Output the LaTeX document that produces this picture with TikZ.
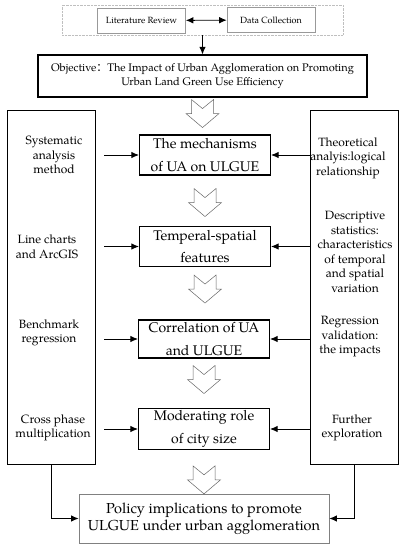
\documentclass[tikz,border=0pt]{standalone}
\usepackage{fontspec}
\setmainfont{TeX Gyre Pagella}
\newfontfamily\cjk{Noto Sans CJK SC}
\usetikzlibrary{positioning, arrows.meta, calc}

\tikzset{
  stage/.style={draw, line width=1.1pt, align=center, minimum width=131pt, minimum height=40pt, inner sep=2pt, font=\fontsize{14}{22.5}\selectfont},
  side/.style={align=center, font=\fontsize{12}{14.5}\selectfont, inner sep=0pt},
  frame/.style={draw, line width=0.9pt, minimum width=88pt, minimum height=354pt},
  source/.style={draw=gray!80, line width=0.6pt, minimum width=88pt, minimum height=25pt, font=\fontsize{9}{11}\selectfont},
  link/.style={-{Latex[length=7.5pt,width=6.5pt]}, line width=0.9pt},
  hollow/.pic={\draw[gray!80!black, line width=0.5pt, fill=white] (-11,0) -- (0,9) -- (11,0) -- (11,14) -- (16.5,14) -- (0,28) -- (-16.5,14) -- (-11,14) -- cycle;}
}

\begin{document}
\begin{tikzpicture}[x=1pt, y=-1pt]
\useasboundingbox (0,0) rectangle (407,550);
% sources
\node[draw=gray!50, densely dotted, minimum width=281pt, minimum height=30pt] (review) at (202.5,20) {};
\node[source] (lit) at (141.5,20.5) {Literature Review};
\node[source] (data) at (271,20) {Data Collection};
\draw[{Latex[length=7.5pt,width=6.5pt]}-{Latex[length=7.5pt,width=6.5pt]}, line width=0.9pt] (lit) -- (data);
% objective
\node[draw, line width=1.1pt, align=center, minimum width=329pt, minimum height=42pt, font=\fontsize{11}{13.3}\selectfont] (obj) at (202.5,76) {Objective{\cjk ：}The Impact of Urban Agglomeration on Promoting\\ Urban Land Green Use Efficiency};
\draw[link] (review.south) -- (obj.north);

% frames
\node[frame] (lframe) at (51,287) {};
\node[frame] (rframe) at (354.5,287) {};

% stages
\node[stage] (mech) at (205,155) {The mechanisms\\ of UA on ULGUE};
\node[stage] (temp) at (205,246.5) {Temperal-spatial\\ features};
\node[stage, minimum height=38pt] (corr) at (204,339) {Correlation of UA\\ and ULGUE};
\node[stage] (mod) at (204,429) {Moderating role\\ of city size};
\node[draw=gray, line width=0.7pt, minimum width=250pt, minimum height=49pt, align=center, font=\fontsize{14.5}{16.7}\selectfont] (policy) at (204,518.5) {Policy implications to promote\\ ULGUE under urban agglomeration};

% methods
\node[side] (sys) at (54,155) {Systematic\\ analysis\\ method};
\node[side] (chart) at (47,247) {Line charts\\ and ArcGIS};
\node[side] (bench) at (49,333) {Benchmark\\ regression};
\node[side] (cross) at (53,428) {Cross phase\\ multiplication};

% analyses
\node[side] (theo) at (348,158) {Theoretical\\ analyis:logical\\ relationship};
\node[side] (desc) at (355,252) {Descriptive\\ statistics:\\ characteristics\\ of temporal\\ and spatial\\ variation};
\node[side] (regr) at (350,337) {Regression\\ validation:\\ the impacts};
\node[side] (further) at (352,428) {Further\\ exploration};

% arrows into stages
\foreach \s in {mech, temp, corr, mod} {
  \draw[link] ($(lframe.east |- \s.west)+(9,0)$) -- (\s.west);
  \draw[link] (rframe.west |- \s.east) -- (\s.east);
}
\draw[link] (lframe.south) |- (policy.west);
\draw[link] (rframe.south) |- (policy.east);

% hollow arrows
\pic at ([yshift=-2pt]obj.south) {hollow};
\pic at ([yshift=-13pt]mech.south) {hollow};
\pic at ([yshift=-8pt]temp.south) {hollow};
\pic at ([yshift=-7pt]corr.south) {hollow};
\pic at ([yshift=-16pt]mod.south) {hollow};
\end{tikzpicture}
\end{document}
